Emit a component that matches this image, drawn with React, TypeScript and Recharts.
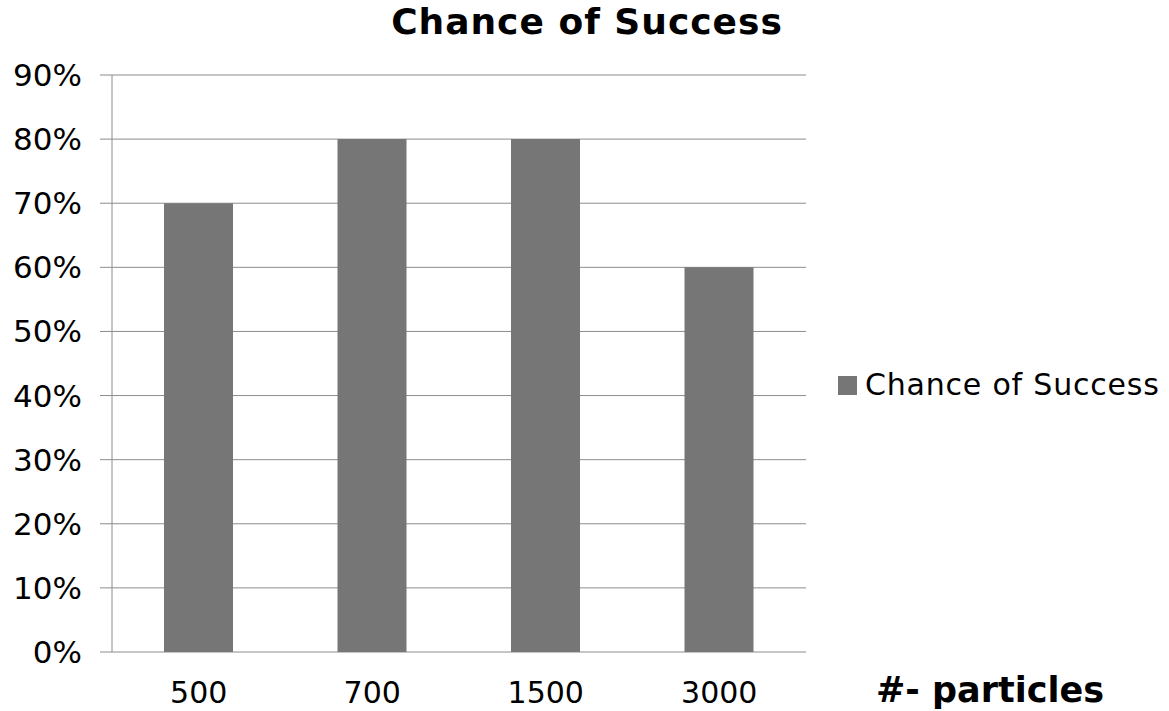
import { BarChart, Bar, XAxis, YAxis, CartesianGrid, Legend } from 'recharts';

const categories = ['500', '700', '1500', '3000'];
const successRate = [0.7, 0.8, 0.8, 0.6];
const yTicks = [0, 0.1, 0.2, 0.3, 0.4, 0.5, 0.6, 0.7, 0.8, 0.9];
const boundaryTicks = [0, 1, 2, 3, 4];

const data = categories.map((c, i) => ({ particles: c, success: successRate[i] }));

const FONT = '"DejaVu Sans", Verdana, sans-serif';
const BAR = '#767676';
const LINE = '#8c8c8c';

function LegendBox() {
  return (
    <div style={{ display: 'flex', alignItems: 'center', fontFamily: FONT, fontSize: 30, letterSpacing: 0.8, color: '#000', lineHeight: '34px' }}>
      <span style={{ display: 'inline-block', width: 19, height: 19, background: BAR, marginRight: 8 }} />
      <span>Chance of Success</span>
    </div>
  );
}

export default function App() {
  return (
    <div style={{ position: 'absolute', left: 0, top: 0, width: 1169, height: 711, background: '#fff' }}>
      <div
        style={{
          position: 'absolute', left: 0, width: 1174, top: 0, textAlign: 'center', lineHeight: '44px',
          fontFamily: FONT, fontWeight: 'bold', fontSize: 36, letterSpacing: 1, color: '#000',
        }}
      >
        Chance of Success
      </div>
      <BarChart
        width={1169}
        height={711}
        data={data}
        margin={{ top: 75, right: 363, left: 12, bottom: 0 }}
      >
        <CartesianGrid vertical={false} stroke={LINE} />
        <XAxis
          xAxisId="bounds"
          type="number"
          domain={[0, 4]}
          ticks={boundaryTicks}
          height={0}
          tickSize={10}
          tick={<g />}
          stroke={LINE}
          axisLine={{ stroke: LINE }}
          tickLine={{ stroke: LINE }}
        />
        <XAxis
          dataKey="particles"
          height={59}
          axisLine={false}
          tickLine={false}
          tickSize={0}
          tickMargin={30}
          tick={{ fill: '#000', fontSize: 30, fontFamily: FONT }}
        />
        <YAxis
          width={100}
          domain={[0, 0.9]}
          ticks={yTicks}
          tickSize={12}
          tickMargin={18}
          stroke={LINE}
          tickFormatter={(v: number) => `${Math.round(v * 100)}%`}
          tick={{ fill: '#000', fontSize: 31, fontFamily: FONT }}
        />
        <Legend
          layout="horizontal"
          align="center"
          verticalAlign="middle"
          wrapperStyle={{ left: 838, top: 368, width: 330 }}
          content={() => <LegendBox />}
        />
        <Bar dataKey="success" name="Chance of Success" fill={BAR} barSize={69} isAnimationActive={false} />
      </BarChart>
      <div
        style={{
          position: 'absolute', left: 876, top: 668, lineHeight: '44px', fontFamily: FONT, fontWeight: 'bold',
          fontSize: 35, color: '#000',
        }}
      >
        #- particles
      </div>
    </div>
  );
}
